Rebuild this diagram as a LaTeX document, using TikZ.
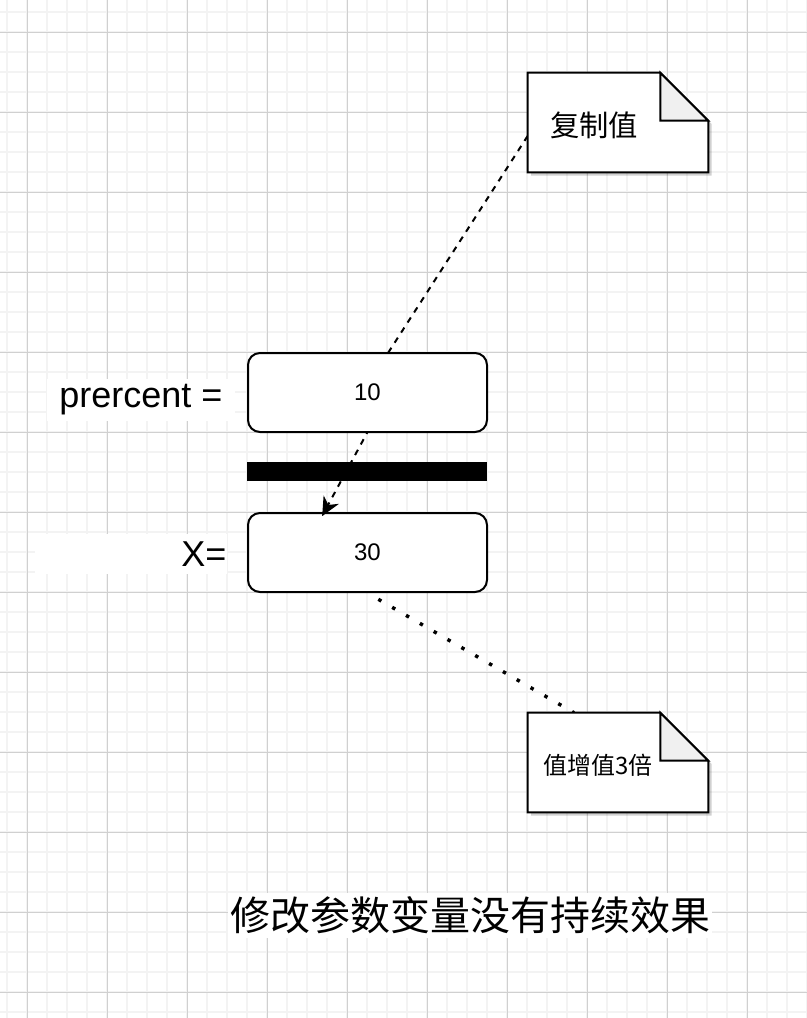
\documentclass[tikz,border=0pt]{standalone}
\usepackage{fontspec}
\setmainfont{Liberation Sans}
\newfontfamily\cjk{Noto Sans CJK SC}
\usetikzlibrary{arrows.meta}

\definecolor{gridminor}{HTML}{F3F3F3}
\definecolor{gridmajor}{HTML}{D0D0D0}
\definecolor{foldgray}{HTML}{F0F0F0}

\pgfdeclarelayer{grid}
\pgfdeclarelayer{lower}
\pgfdeclarelayer{edges}
\pgfsetlayers{grid,lower,edges,main}

\tikzset{
  valuebox/.style={draw, line width=1.5pt, rounded corners=9pt, fill=white,
    minimum width=179.25pt, minimum height=59.25pt, font=\fontsize{18}{20}\selectfont},
  notebox/.style={minimum width=135pt, minimum height=74.25pt, inner sep=0pt},
  notetext/.style={inner sep=0pt},
  sidelabel/.style={fill=white, inner sep=0pt, font=\fontsize{27}{30}\selectfont},
  dashedge/.style={line width=1.5pt, dash pattern=on 4.5pt off 4.5pt},
  tiponly/.style={line width=1.5pt, -{Stealth[length=14pt,width=13pt,inset=4.5pt]}},
  dotedge/.style={line width=2.6pt, dash pattern=on 2.6pt off 9.4pt, dash phase=2.6pt},
}

% folded note outline round an empty node
\newcommand{\drawnote}[1]{%
  \fill[black, opacity=0.18, transform canvas={shift={(2.5pt,-2.5pt)}}]
    (#1.north west) -- ([xshift=-36pt]#1.north east) -- ([yshift=-36pt]#1.north east)
    -- (#1.south east) -- (#1.south west) -- cycle;
  \filldraw[fill=white, line width=1.5pt]
    (#1.north west) -- ([xshift=-36pt]#1.north east) -- ([yshift=-36pt]#1.north east)
    -- (#1.south east) -- (#1.south west) -- cycle;
  \filldraw[fill=foldgray, line width=1.5pt]
    ([xshift=-36pt]#1.north east) -- ([xshift=-36pt,yshift=-36pt]#1.north east)
    -- ([yshift=-36pt]#1.north east) -- cycle;
}

\begin{document}
\begin{tikzpicture}[x=0.75pt, y=-0.75pt]
  \useasboundingbox (0,0) rectangle (807,1018);

  \begin{pgfonlayer}{grid}
    \fill[white] (0,0) rectangle (807,1018);
    \foreach \gx in {7,27,...,807} \draw[gridminor, line width=1.5pt] (\gx,0) -- (\gx,1018);
    \foreach \gy in {12,32,...,1018} \draw[gridminor, line width=1.5pt] (0,\gy) -- (807,\gy);
    \foreach \gx in {27,107,...,807} \draw[gridmajor, line width=0.75pt] (\gx,0) -- (\gx,1018);
    \foreach \gy in {32,112,...,1018} \draw[gridmajor, line width=0.75pt] (0,\gy) -- (807,\gy);
  \end{pgfonlayer}

  % values
  \begin{pgfonlayer}{lower}
    \node[valuebox] (xbox) at (367.5,552.5) {30};
  \end{pgfonlayer}
  \node[valuebox] (percentbox) at (367.5,392.5) {10};
  \node[fill=black, minimum width=180pt, minimum height=14.25pt, inner sep=0pt] (divider) at (367,471.5) {};

  % labels
  \node[sidelabel, minimum width=141pt, minimum height=32pt] (percentlabel) at (141,400) {prercent =};
  \node[sidelabel, text width=144pt, align=right, minimum height=30pt] (xlabel) at (130.5,554) {X=};

  % notes
  \node[notebox] (copynote) at (618,122.5) {};
  \node[notebox] (triplenote) at (618,762.5) {};
  \drawnote{copynote}
  \drawnote{triplenote}
  \node[notetext, font=\cjk\fontsize{22}{24}\selectfont] (copytext) at (594,125) {复制值};
  \node[notetext, font=\cjk\fontsize{18}{20}\selectfont] (tripletext) at (598,765) {值增值3倍};

  % title
  \node[fill=white, inner xsep=1.5pt, inner ysep=0pt, minimum height=33.75pt,
    font=\cjk\fontsize{30}{32}\selectfont] (title) at (470,915) {修改参数变量没有持续效果};

  % connectors
  \coordinate (bend1) at (388,353);
  \coordinate (bend2) at (367,433);
  \coordinate (tipend) at ([xshift=-34pt,yshift=-3pt]xbox.north);
  \begin{pgfonlayer}{edges}
    \draw[dashedge] ([yshift=-10pt]copynote.west) -- (bend1) -- (bend2) -- ([xshift=4pt,yshift=7.5pt]tipend);
    \draw[tiponly] ([xshift=0.5pt,yshift=0.9pt]tipend) -- (tipend);
    \draw[dotedge] (xbox.south) -- ([xshift=-33pt]triplenote.north);
  \end{pgfonlayer}
\end{tikzpicture}
\end{document}
